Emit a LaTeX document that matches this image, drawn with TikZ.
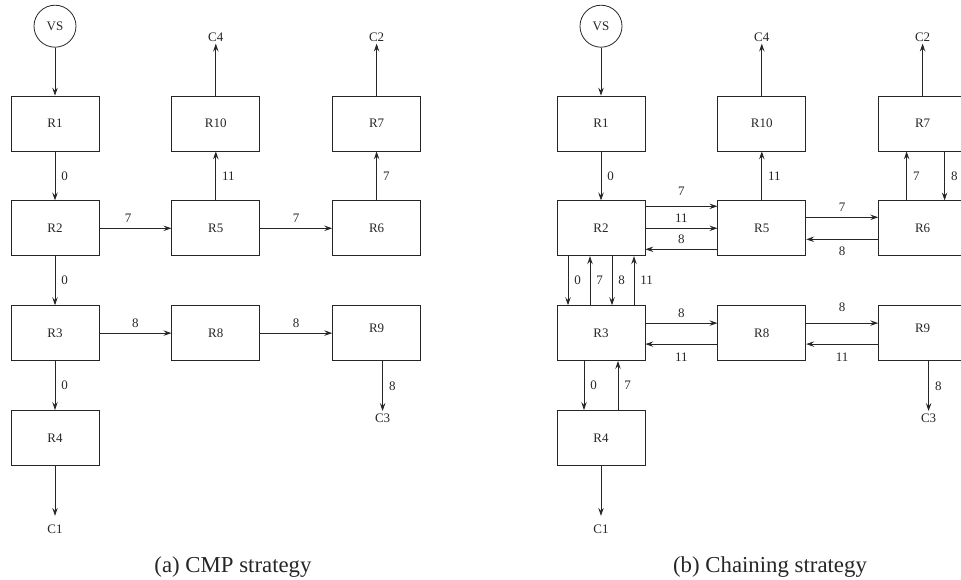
\documentclass[tikz,border=0pt]{standalone}
\usepackage{fontspec}
\setmainfont{Liberation Serif}
\usetikzlibrary{positioning,arrows.meta}
\newcommand\figfont{\fontsize{13}{15}\selectfont}

\begin{document}
\begin{tikzpicture}[x=1pt,y=-1pt,color=black!85,line width=0.8pt,
    >={Stealth[length=8pt,width=5.5pt,inset=3pt]},
    node distance=49pt and 72pt,
    box/.style={draw,minimum width=88pt,minimum height=55pt,inner sep=0pt,font=\figfont},
    src/.style={draw,circle,minimum size=42pt,inner sep=0pt,font=\figfont},
    term/.style={inner sep=2pt,font=\figfont},
    lab/.style={inner sep=2pt,font=\figfont},
    subcap/.style={anchor=base,font=\fontsize{22.8}{27}\selectfont}]
  \useasboundingbox (0,0) rectangle (961,579);

  % (a) CMP strategy
  \node[box] (a1) at (55,123.5) {R1};
  \node[box,below=of a1] (a2) {R2};
  \node[box,below=of a2] (a3) {R3};
  \node[box,below=of a3] (a4) {R4};
  \node[box,right=of a2] (a5) {R5};
  \node[box,right=of a5] (a6) {R6};
  \node[box,above=of a5] (a10) {R10};
  \node[box,above=of a6] (a7) {R7};
  \node[box,right=of a3] (a8) {R8};
  \node[box,right=of a8,text depth=10pt] (a9) {R9};
  \node[src,above=48pt of a1] (av) {VS};
  \node[term,above=52pt of a10] (ac4) {C4};
  \node[term,above=52pt of a7] (ac2) {C2};
  \node[term,below=50pt of a9,xshift=6pt] (ac3) {C3};
  \node[term,below=57pt of a4] (ac1) {C1};
  \draw[->] (av) -- (a1);
  \draw[->] (a1) -- node[lab,right=4pt]{0} (a2);
  \draw[->] (a2) -- node[lab,right=4pt]{0} (a3);
  \draw[->] (a3) -- node[lab,right=4pt]{0} (a4);
  \draw[->,shorten >=7pt] (a4) -- (ac1);
  \draw[->] (a2) -- node[lab,above=3pt,pos=0.4]{7} (a5);
  \draw[->] (a5) -- node[lab,above=3pt]{7} (a6);
  \draw[->] (a5) -- node[lab,right=4pt]{11} (a10);
  \draw[->] (a6) -- node[lab,right=4pt]{7} (a7);
  \draw[->] (a10) -- (ac4);
  \draw[->] (a7) -- (ac2);
  \draw[->] (a3) -- node[lab,above=3pt]{8} (a8);
  \draw[->] (a8) -- node[lab,above=3pt]{8} (a9);
  \draw[->] (ac3 |- a9.south) -- node[lab,right=4pt]{8} (ac3);
  \node[subcap] (capa) at (233,572) {(a) CMP strategy};

  % (b) Chaining strategy
  \node[box] (b1) at (601,123.5) {R1};
  \node[box,below=of b1] (b2) {R2};
  \node[box,below=of b2] (b3) {R3};
  \node[box,below=of b3] (b4) {R4};
  \node[box,right=of b2] (b5) {R5};
  \node[box,right=of b5] (b6) {R6};
  \node[box,above=of b5] (b10) {R10};
  \node[box,above=of b6] (b7) {R7};
  \node[box,right=of b3] (b8) {R8};
  \node[box,right=of b8,text depth=10pt] (b9) {R9};
  \node[src,above=48pt of b1] (bv) {VS};
  \node[term,above=52pt of b10] (bc4) {C4};
  \node[term,above=52pt of b7] (bc2) {C2};
  \node[term,below=50pt of b9,xshift=6pt] (bc3) {C3};
  \node[term,below=57pt of b4] (bc1) {C1};
  \draw[->] (bv) -- (b1);
  \draw[->] (b1) -- node[lab,right=4pt]{0} (b2);
  \draw[->] ([yshift=22pt]b2.east) -- node[lab,above=8pt]{7} ([yshift=22pt]b5.west);
  \draw[->] (b2) -- node[lab,above=3pt]{11} (b5);
  \draw[->] ([yshift=-21pt]b5.west) -- node[lab,above=3pt]{8} ([yshift=-21pt]b2.east);
  \draw[->] ([yshift=11pt]b5.east) -- node[lab,above=3pt]{7} ([yshift=11pt]b6.west);
  \draw[->] ([yshift=-11pt]b6.west) -- node[lab,below=5pt]{8} ([yshift=-11pt]b5.east);
  \draw[->] (b5) -- node[lab,right=4pt]{11} (b10);
  \draw[->] ([xshift=-16pt]b6.north) -- node[lab,right=4pt]{7} ([xshift=-16pt]b7.south);
  \draw[->] ([xshift=22pt]b7.south) -- node[lab,right=4pt]{8} ([xshift=22pt]b6.north);
  \draw[->] (b10) -- (bc4);
  \draw[->] (b7) -- (bc2);
  \draw[->] ([xshift=-33pt]b2.south) -- node[lab,right=4pt]{0} ([xshift=-33pt]b3.north);
  \draw[->] ([xshift=-11pt]b3.north) -- node[lab,right=4pt]{7} ([xshift=-11pt]b2.south);
  \draw[->] ([xshift=11pt]b2.south) -- node[lab,right=4pt]{8} ([xshift=11pt]b3.north);
  \draw[->] ([xshift=33pt]b3.north) -- node[lab,right=4pt]{11} ([xshift=33pt]b2.south);
  \draw[->] ([yshift=10pt]b3.east) -- node[lab,above=3pt]{8} ([yshift=10pt]b8.west);
  \draw[->] ([yshift=-11pt]b8.west) -- node[lab,below=6pt]{11} ([yshift=-11pt]b3.east);
  \draw[->] ([yshift=10pt]b8.east) -- node[lab,above=9pt]{8} ([yshift=10pt]b9.west);
  \draw[->] ([yshift=-11pt]b9.west) -- node[lab,below=6pt]{11} ([yshift=-11pt]b8.east);
  \draw[->] ([xshift=-17pt]b3.south) -- node[lab,right=4pt]{0} ([xshift=-17pt]b4.north);
  \draw[->] ([xshift=17pt]b4.north) -- node[lab,right=4pt]{7} ([xshift=17pt]b3.south);
  \draw[->,shorten >=7pt] (b4) -- (bc1);
  \draw[->] (bc3 |- b9.south) -- node[lab,right=4pt]{8} (bc3);
  \node[subcap] (capb) at (770,572) {(b) Chaining strategy};
\end{tikzpicture}
\end{document}
